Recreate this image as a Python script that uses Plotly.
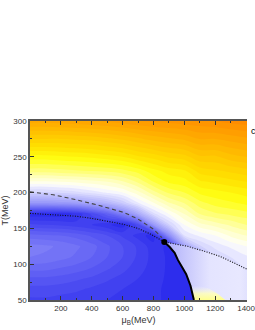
import plotly.graph_objects as go

# ---- data ----
mu_grid = [0, 100, 200, 300, 400, 500, 600, 700, 800, 900, 1000, 1100, 1200, 1300, 1400, 1500]
T_grid = [50, 65, 80, 95, 110, 125, 140, 155, 170, 185, 200, 215, 230, 250, 275, 300]

# field values (rows = T_grid, columns = mu_grid), colour level 0 = deep blue ... 1 = orange
z_rows = [
    [0.07, 0.07, 0.065, 0.06, 0.055, 0.05, 0.045, 0.04, 0.03, 0.02, 0.02, 0.02, 0.30, 0.35, 0.38, 0.40],   # 50
    [0.09, 0.09, 0.085, 0.08, 0.07, 0.06, 0.05, 0.045, 0.03, 0.02, 0.02, 0.02, 0.30, 0.35, 0.38, 0.40],    # 65
    [0.12, 0.12, 0.115, 0.105, 0.095, 0.08, 0.065, 0.05, 0.035, 0.02, 0.02, 0.02, 0.30, 0.35, 0.38, 0.40], # 80
    [0.16, 0.16, 0.15, 0.14, 0.125, 0.105, 0.085, 0.06, 0.04, 0.02, 0.02, 0.05, 0.35, 0.40, 0.45, 0.46],   # 95
    [0.20, 0.195, 0.185, 0.17, 0.15, 0.125, 0.10, 0.07, 0.04, 0.02, 0.02, 0.30, 0.42, 0.45, 0.47, 0.48],   # 110
    [0.21, 0.205, 0.195, 0.18, 0.16, 0.13, 0.10, 0.07, 0.035, 0.02, 0.30, 0.42, 0.46, 0.48, 0.50, 0.51],   # 125
    [0.16, 0.155, 0.15, 0.14, 0.12, 0.10, 0.07, 0.04, 0.01, 0.25, 0.45, 0.48, 0.50, 0.53, 0.55, 0.56],     # 140
    [0.08, 0.075, 0.07, 0.06, 0.05, 0.03, 0.01, 0.09, 0.28, 0.42, 0.50, 0.54, 0.56, 0.58, 0.60, 0.61],     # 155
    [0.01, 0.01, 0.01, 0.03, 0.08, 0.14, 0.22, 0.32, 0.44, 0.50, 0.55, 0.60, 0.62, 0.63, 0.64, 0.65],      # 170
    [0.27, 0.27, 0.28, 0.29, 0.32, 0.35, 0.40, 0.47, 0.52, 0.57, 0.60, 0.64, 0.66, 0.67, 0.68, 0.69],      # 185
    [0.42, 0.42, 0.43, 0.44, 0.46, 0.48, 0.50, 0.54, 0.59, 0.63, 0.65, 0.68, 0.69, 0.70, 0.71, 0.72],      # 200
    [0.52, 0.52, 0.525, 0.53, 0.54, 0.55, 0.57, 0.605, 0.65, 0.68, 0.69, 0.72, 0.73, 0.74, 0.75, 0.76],    # 215
    [0.61, 0.61, 0.615, 0.62, 0.625, 0.63, 0.64, 0.66, 0.69, 0.71, 0.72, 0.76, 0.77, 0.78, 0.79, 0.80],    # 230
    [0.69, 0.69, 0.695, 0.70, 0.705, 0.715, 0.725, 0.745, 0.76, 0.78, 0.79, 0.82, 0.82, 0.84, 0.85, 0.86], # 250
    [0.80, 0.80, 0.80, 0.805, 0.81, 0.82, 0.83, 0.845, 0.86, 0.87, 0.88, 0.90, 0.90, 0.91, 0.92, 0.93],    # 275
    [0.91, 0.91, 0.915, 0.92, 0.925, 0.93, 0.94, 0.95, 0.955, 0.96, 0.965, 0.97, 0.975, 0.985, 0.99, 1.0], # 300
]

# crossover (dotted) line
cross_mu = [0, 100, 200, 300, 400, 500, 600, 700, 781, 870, 920, 1020, 1130, 1230, 1320, 1406, 1500]
cross_T = [171, 170, 169, 167, 164, 160, 156, 150, 142, 131, 129, 125, 118, 111, 102, 93, 83]
# dashed line
dash_mu = [0, 150, 300, 450, 612, 700, 800, 855]
dash_T = [201, 197, 190, 182, 172, 163, 149, 137]
# first-order (solid) line
first_mu = [870, 905, 937, 958, 985, 1012, 1040, 1062]
first_T = [131, 124, 116, 106, 96, 86, 70, 50]
# critical end point
cep_mu = [870]
cep_T = [131]
# pale yellow patch right of the first-order line, near the bottom axis
patch_mu = [1062, 1050, 1043, 1090, 1160, 1220, 1265, 1062]
patch_T = [50, 62, 69, 70, 66, 58, 50, 50]

x_ticks = [200, 400, 600, 800, 1000, 1200, 1400]
y_ticks = [50, 100, 150, 200, 250, 300]

font_fam = "Liberation Sans, Arial, sans-serif"

colorscale = [
    [0.00, "rgb(40,40,236)"],
    [0.10, "rgb(80,80,242)"],
    [0.20, "rgb(120,120,246)"],
    [0.30, "rgb(160,160,250)"],
    [0.40, "rgb(200,200,253)"],
    [0.47, "rgb(235,235,255)"],
    [0.50, "rgb(255,255,250)"],
    [0.56, "rgb(255,255,190)"],
    [0.62, "rgb(255,255,110)"],
    [0.68, "rgb(255,255,20)"],
    [0.75, "rgb(255,225,0)"],
    [0.85, "rgb(255,190,0)"],
    [1.00, "rgb(255,135,0)"],
]

fig = go.Figure()

fig.add_trace(go.Contour(
    x=mu_grid, y=T_grid, z=z_rows,
    colorscale=colorscale, zmin=0, zmax=1, zauto=False,
    contours=dict(start=0, end=1, size=0.025, coloring="fill", showlines=False),
    line=dict(width=0), showscale=False, hoverinfo="skip",
))

# region to the right of the first-order line (below the crossover line)
right_first = list(zip(first_mu, first_T))
right_cross = [(m, t) for m, t in zip(cross_mu, cross_T) if m >= 870]
poly = right_first + [(1500, 50)] + list(reversed(right_cross))
fig.add_trace(go.Scatter(
    x=[p[0] for p in poly], y=[p[1] for p in poly],
    mode="lines", line=dict(width=0), fill="toself",
    fillgradient=dict(type="horizontal", start=870, stop=1500, colorscale=[
        [0.0, "rgb(178,178,250)"], [0.15, "rgb(198,198,252)"], [0.4, "rgb(228,228,255)"],
        [0.7, "rgb(232,232,255)"], [0.85, "rgb(218,218,253)"], [1.0, "rgb(212,212,252)"]]),
    hoverinfo="skip", showlegend=False,
))
fig.add_trace(go.Scatter(
    x=patch_mu, y=patch_T, mode="lines", line=dict(width=0), fill="toself",
    fillgradient=dict(type="vertical", start=50, stop=70, colorscale=[
        [0.0, "rgba(255,255,140,1)"], [0.45, "rgba(255,255,185,0.85)"], [1.0, "rgba(245,245,255,0)"]]),
    hoverinfo="skip", showlegend=False,
))

fig.add_trace(go.Scatter(x=dash_mu, y=dash_T, mode="lines",
                         line=dict(color="#444", width=1.1, dash="4px,3px"), hoverinfo="skip", showlegend=False))
fig.add_trace(go.Scatter(x=cross_mu, y=cross_T, mode="lines",
                         line=dict(color="#111", width=1.1, dash="1px,1.5px"), hoverinfo="skip", showlegend=False))
fig.add_trace(go.Scatter(x=first_mu, y=first_T, mode="lines",
                         line=dict(color="black", width=2), hoverinfo="skip", showlegend=False))
fig.add_trace(go.Scatter(x=cep_mu, y=cep_T, mode="markers",
                         marker=dict(color="black", size=6), hoverinfo="skip", showlegend=False))

fig.add_annotation(xref="paper", x=1.0, xshift=2, y=286, text="crossover", showarrow=False,
                   xanchor="left", yanchor="middle",
                   font=dict(family=font_fam, size=9, color="black"))

axis_common = dict(
    showline=True, linecolor="#555", linewidth=1.5,
    ticks="inside", ticklen=4, tickwidth=1, tickcolor="#333",
    showgrid=False, zeroline=False,
    tickfont=dict(family=font_fam, size=8, color="#333"),
    ticklabeloverflow="allow",
)

fig.update_xaxes(
    range=[0, 1406], tickvals=x_ticks, mirror="ticks",
    minor=dict(ticks="inside", ticklen=2, tickcolor="#333", dtick=100, tick0=0),
    title=dict(text="μ<sub>B</sub>(MeV)", font=dict(family=font_fam, size=9, color="#333"), standoff=4),
    **axis_common,
)
fig.update_yaxes(
    range=[50, 300], tickvals=y_ticks, mirror=False,
    minor=dict(ticks="inside", ticklen=2, tickcolor="#333", dtick=25, tick0=50),
    title=dict(text="T(MeV)", font=dict(family=font_fam, size=9, color="#333"), standoff=3),
    **axis_common,
)

fig.update_layout(
    width=255, height=330,
    margin=dict(l=30, r=0, t=121, b=30),
    paper_bgcolor="white", plot_bgcolor="white",
    showlegend=False,
    font=dict(family=font_fam),
)

fig.write_html(
    "out.html",
    config={"displayModeBar": False},
    post_script="document.body.style.margin='0';document.body.style.padding='0';document.body.style.overflow='hidden';",
)
